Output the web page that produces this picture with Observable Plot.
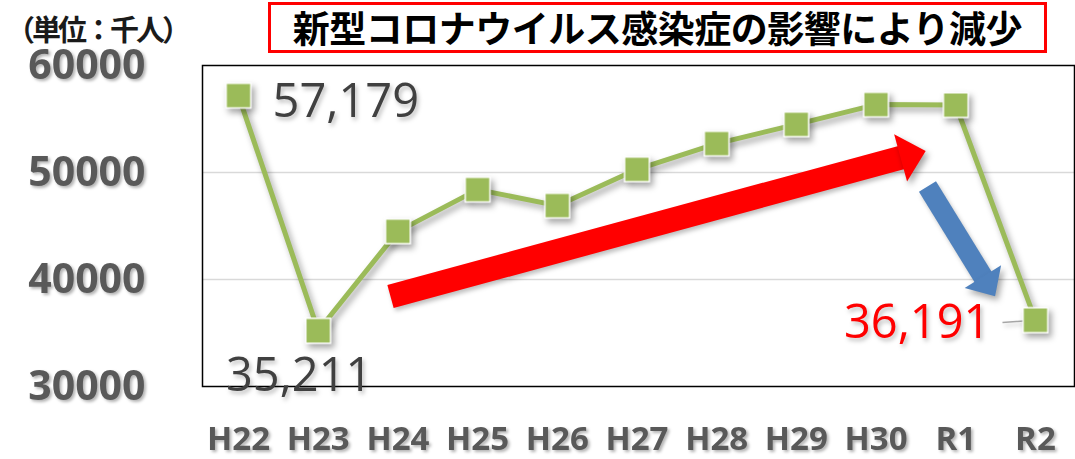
<!DOCTYPE html>
<html><head><meta charset="utf-8">
<script src="https://cdn.jsdelivr.net/npm/d3@7"></script>
<script src="https://cdn.jsdelivr.net/npm/@observablehq/plot@0.6"></script>
<style>
body{margin:0;background:#fff;}
#wrap{position:relative;width:1075px;height:459px;overflow:hidden;background:#fff;}
#chart{position:absolute;left:0;top:0;}
#unit{position:absolute;left:6px;top:12px;font:700 29px "Noto Sans CJK JP";color:#1a1a1a;white-space:nowrap;line-height:32px;letter-spacing:-3px;}
#title{position:absolute;left:268px;top:2px;width:773px;height:45px;border:3px solid #ff0000;background:#fff;
  font:700 37px "Noto Sans CJK JP";color:#000;text-align:center;line-height:45px;white-space:nowrap;letter-spacing:-0.5px;}
svg g[aria-label="line"], svg g[aria-label="dot"]{filter:drop-shadow(3px 4px 3px rgba(0,0,0,0.35));}
svg g[aria-label="link"], svg g[aria-label="text"], svg g[aria-label="frame"]{filter:drop-shadow(2px 3px 2px rgba(0,0,0,0.25));}
svg g[aria-label="y-axis tick label"], svg g[aria-label="x-axis tick label"]{filter:drop-shadow(2px 2px 1.5px rgba(0,0,0,0.3));}
</style>
</head><body>
<div id="wrap">
  <div id="chart"></div>
  <div id="unit">（単位：千人）</div>
  <div id="title">新型コロナウイルス感染症の影響により減少</div>
</div>
<script>
// categories and values (thousand persons)
const years = ["H22","H23","H24","H25","H26","H27","H28","H29","H30","R1","R2"];
const visitors = [57179, 35211, 44500, 48400, 46900, 50300, 52700, 54500, 56350, 56300, 36191];
const yTicks = [30000, 40000, 50000, 60000];
const gridValues = [40000, 50000];

// annotation arrows, in data space (x = category index, y = value)
const arrowNames   = ["increase", "decrease"];
const arrowColors  = ["#ff0000", "#4f81bd"];
const arrowStartX  = [1.907, 8.645];
const arrowStartY  = [38411, 48692];
const arrowBaseX   = [8.32, 9.347];
const arrowBaseY   = [51402, 40187];
const arrowAngles  = [-15.3, 58];
const arrowShaftW  = [24, 20];
const arrowHeadW   = [49, 43];
const arrowHeadL   = [25, 22];

// leader line for the R2 label
const leaderX = [9.586, 9.937];
const leaderY = [35981, 36168];

const data = years.map((year, i) => ({i, year, value: visitors[i]}));
const fmt = d3.format(",");

function headSymbol(angleDeg, w, L) {
  const a = angleDeg * Math.PI / 180, c = Math.cos(a), s = Math.sin(a);
  const rot = (x, y) => [x * c - y * s, x * s + y * c];
  return {
    draw(ctx) {
      const p = [rot(-1, -w / 2), rot(L, 0), rot(-1, w / 2)];
      ctx.moveTo(p[0][0], p[0][1]);
      ctx.lineTo(p[1][0], p[1][1]);
      ctx.lineTo(p[2][0], p[2][1]);
      ctx.closePath();
    }
  };
}

const arrowMarks = arrowNames.flatMap((name, k) => {
  const d = [{x1: arrowStartX[k], y1: arrowStartY[k], x2: arrowBaseX[k], y2: arrowBaseY[k]}];
  return [
    Plot.link(d, {x1: "x1", y1: "y1", x2: "x2", y2: "y2", stroke: arrowColors[k],
      strokeWidth: arrowShaftW[k], strokeLinecap: "butt"}),
    Plot.dot(d, {x: "x2", y: "y2", r: 10, fill: arrowColors[k], stroke: "none",
      symbol: headSymbol(arrowAngles[k], arrowHeadW[k], arrowHeadL[k])})
  ];
});

const byYear = y => data.filter(d => d.year === y);

const chart = Plot.plot({
  width: 1075,
  height: 459,
  marginLeft: 202,
  marginRight: 1,
  marginTop: 65,
  marginBottom: 73,
  style: {fontFamily: "'Open Sans', sans-serif", background: "transparent", overflow: "visible"},
  x: {type: "linear", domain: [-0.452, 10.49]},
  y: {domain: [30000, 60000]},
  marks: [
    Plot.ruleY(gridValues, {stroke: "#d9d9d9", strokeWidth: 1.5}),
    Plot.frame({stroke: "#000", strokeWidth: 1.5}),
    Plot.axisY({ticks: yTicks, tickSize: 0, tickPadding: 57, tickFormat: d => String(d),
      fontSize: 41, fontWeight: 700, fill: "#595959"}),
    Plot.axisX({ticks: d3.range(years.length), tickSize: 0, tickPadding: 40,
      tickFormat: i => years[i], fontSize: 33, fontWeight: 700, fill: "#595959"}),
    ...arrowMarks,
    Plot.line(data, {x: "i", y: "value", stroke: "#9bbb59", strokeWidth: 5}),
    Plot.link([{x1: leaderX[0], y1: leaderY[0], x2: leaderX[1], y2: leaderY[1]}],
      {x1: "x1", y1: "y1", x2: "x2", y2: "y2", stroke: "#a6a6a6", strokeWidth: 1.5}),
    Plot.dot(data, {x: "i", y: "value", symbol: "square", r: 14, fill: "#9bbb59",
      stroke: "#fff", strokeWidth: 1.5}),
    Plot.text(byYear("H22"), {x: "i", y: "value", text: d => fmt(d.value), textAnchor: "start",
      dx: 34, dy: 6, fontSize: 47, fill: "#404040"}),
    Plot.text(byYear("H23"), {x: "i", y: "value", text: d => fmt(d.value), textAnchor: "middle",
      dx: -19, dy: 45, fontSize: 47, fill: "#404040"}),
    Plot.text(byYear("R2"), {x: "i", y: "value", text: d => fmt(d.value), textAnchor: "end",
      dx: -45, dy: 3, fontSize: 47, fill: "#ff0000"})
  ]
});
document.getElementById("chart").appendChild(chart);
</script>
</body></html>
